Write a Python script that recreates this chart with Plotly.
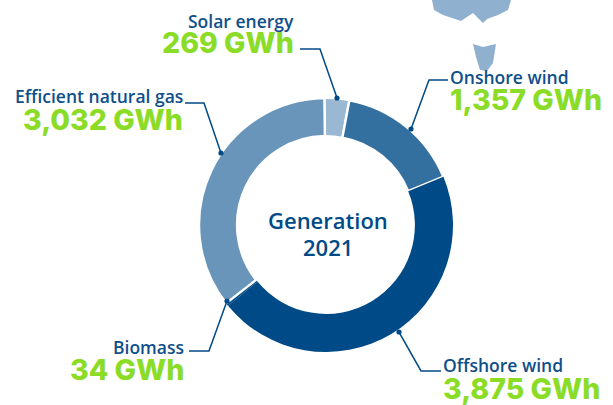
import plotly.graph_objects as go

W, H = 613, 405
categories = ["Solar energy", "Onshore wind", "Offshore wind", "Biomass", "Efficient natural gas"]
values = [269, 1357, 3875, 34, 3032]
value_labels = ["269 GWh", "1,357 GWh", "3,875 GWh", "34 GWh", "3,032 GWh"]
colors = ["#9ab8d1", "#336f9f", "#004a87", "#004a87", "#6895b9"]

# label anchors: (x, name y, value y, anchor)
label_pos = [(296, 21, 42, "right"), (448, 77, 99, "left"), (441, 365, 388, "left"),
             (186, 347, 369, "right"), (185, 96, 119, "right")]
# leader lines in pixels
leaders = [[(300, 49), (320, 49), (337, 98)],
           [(448, 80), (429, 80), (411, 129)],
           [(441, 371), (421, 371), (399, 332)],
           [(189, 351), (209, 351), (227, 301)],
           [(185, 103), (204, 103), (221, 153)]]
map_a = [(432, 0), (511, 0), (508, 10), (498, 15), (487, 19), (483, 23), (473, 13), (461, 21), (443, 15), (434, 10)]
map_b = [(473, 44), (483, 47), (496, 44), (493, 63), (487, 71), (480, 70), (476, 57)]

def px(x): return x / W
def py(y): return 1 - y / H
def path(pts, close=False):
    s = "M" + " L".join(f"{px(x):.4f},{py(y):.4f}" for x, y in pts)
    return s + (" Z" if close else "")

fig = go.Figure(go.Pie(
    values=values, labels=categories, sort=False, direction="clockwise", rotation=-0.7,
    hole=0.7, textinfo="none", hoverinfo="label+value",
    marker=dict(colors=colors, line=dict(color="white", width=[2, 2.5, 0, 0, 2.5])),
    domain=dict(x=[px(326 - 127), px(326 + 127)], y=[py(225 + 127), py(225 - 127)]),
    showlegend=False))

shapes = []
for pts in (map_a, map_b):
    shapes.append(dict(type="path", xref="paper", yref="paper", path=path(pts, True),
                       fillcolor="#8fb0cf", line=dict(width=0)))
for pts in leaders:
    shapes.append(dict(type="path", xref="paper", yref="paper", path=path(pts),
                       line=dict(color="#004a87", width=1.5)))
    x, y = pts[-1]
    r = 2.6
    shapes.append(dict(type="circle", xref="paper", yref="paper",
                       x0=px(x - r), x1=px(x + r), y0=py(y + r), y1=py(y - r),
                       fillcolor="#004a87", line=dict(width=0)))

ann = []
for name, val, (x, y1, y2, anc) in zip(categories, value_labels, label_pos):
    ann.append(dict(x=px(x), y=py(y1), text=name, xref="paper", yref="paper", showarrow=False,
                    xanchor=anc, yanchor="middle",
                    font=dict(family="Open Sans", size=17.5, weight=600, color="#0f4f8a")))
    ann.append(dict(x=px(x), y=py(y2), text=val, xref="paper", yref="paper", showarrow=False,
                    xanchor=anc, yanchor="middle",
                    font=dict(family="Inter", size=28.5, weight=800, color="#8bdc27")))
for text, y in (("Generation", 220), ("2021", 247)):
    ann.append(dict(x=px(328), y=py(y), text=text, xref="paper", yref="paper", showarrow=False,
                    font=dict(family="Open Sans", size=22, weight=600, color="#004a87")))

fig.update_layout(width=W, height=H, margin=dict(l=0, r=0, t=0, b=0),
                  paper_bgcolor="white", shapes=shapes, annotations=ann)
fig.write_html("out.html", config=dict(displayModeBar=False),
               post_script="document.body.style.margin='0';document.body.style.overflow='hidden';")
